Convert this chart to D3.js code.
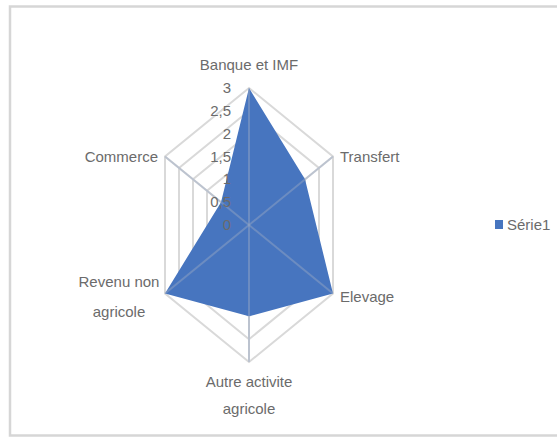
<!DOCTYPE html>
<html>
<head>
<meta charset="utf-8">
<script src="https://cdnjs.cloudflare.com/ajax/libs/d3/7.8.5/d3.min.js"></script>
<style>
  body { margin: 0; background: #fff; }
  text { font-family: "Liberation Sans", Arial, sans-serif; font-size: 15px; fill: #6b6b6b; }
</style>
</head>
<body>
<script>
// Categories / values of the radar
var categories = ["Banque et IMF", "Transfert", "Elevage", "Autre activite agricole", "Revenu non agricole", "Commerce"];
var serie1 = [3, 2, 3, 2, 3, 1];
var tickValues = [0, 0.5, 1, 1.5, 2, 2.5, 3];
var tickLabels = ["0", "0,5", "1", "1,5", "2", "2,5", "3"];
var seriesName = "Série1";

var W = 557, H = 438;
var cx = 249, cy = 225,
    sx = 0.708; // plot is squeezed horizontally

var svg = d3.select("body").append("svg")
    .attr("width", W)
    .attr("height", H);

// chart frame
svg.append("rect")
    .attr("x", 10).attr("y", 6.5)
    .attr("width", 560).attr("height", 429)
    .attr("fill", "#fff")
    .attr("stroke", "#d6d6d6")
    .attr("stroke-width", 2.5);

var r = d3.scaleLinear().domain([0, 3]).range([0, 137]);
var angle = d3.scaleLinear().domain([0, categories.length]).range([0, 2 * Math.PI]);

function px(v, i) { return cx + sx * r(v) * Math.sin(angle(i)); }
function py(v, i) { return cy - r(v) * Math.cos(angle(i)); }

var line = d3.line()
    .x(function(d) { return px(d.v, d.i); })
    .y(function(d) { return py(d.v, d.i); })
    .curve(d3.curveLinearClosed);

// grid rings
svg.append("g").selectAll("path")
    .data(tickValues.slice(1))
    .enter().append("path")
    .attr("d", function(t) { return line(categories.map(function(c, i) { return {v: t, i: i}; })); })
    .attr("fill", "none")
    .attr("stroke", "#d9d9d9")
    .attr("stroke-width", 2);

// spokes (under fill)
var spokes = function(g, color, op) {
    g.selectAll("line")
        .data(categories)
        .enter().append("line")
        .attr("x1", cx).attr("y1", cy)
        .attr("x2", function(d, i) { return px(3, i); })
        .attr("y2", function(d, i) { return py(3, i); })
        .attr("stroke", color)
        .attr("stroke-opacity", op)
        .attr("stroke-width", 2);
};
svg.append("g").call(spokes, "#d9d9d9", 1);

// the filled series
svg.append("path")
    .attr("d", line(serie1.map(function(v, i) { return {v: v, i: i}; })))
    .attr("fill", "#4775bf");

// spokes seen through the fill
svg.append("g").call(spokes, "#9aa9c4", 0.45);

// value axis labels
svg.append("g").selectAll("text")
    .data(tickValues)
    .enter().append("text")
    .attr("x", cx - 18)
    .attr("y", function(t) { return py(t, 0) + 5; })
    .attr("text-anchor", "end")
    .text(function(t, i) { return tickLabels[i]; });

// category labels
var labelPos = [
    {dx: 0, dy: -18, anchor: "middle", lines: ["Banque et IMF"]},
    {dx: 7, dy: 5.5, anchor: "start", lines: ["Transfert"]},
    {dx: 7, dy: 8.5, anchor: "start", lines: ["Elevage"]},
    {dx: 0, dy: 25, anchor: "middle", lines: ["Autre activite", "agricole"], lh: 27},
    {dx: -46, dy: -7, anchor: "middle", lines: ["Revenu non", "agricole"], lh: 30},
    {dx: -7, dy: 5.5, anchor: "end", lines: ["Commerce"]}
];

categories.forEach(function(c, i) {
    var p = labelPos[i];
    var t = svg.append("text")
        .attr("text-anchor", p.anchor)
        .attr("x", px(3, i) + p.dx)
        .attr("y", py(3, i) + p.dy);
    p.lines.forEach(function(l, k) {
        t.append("tspan")
            .attr("x", px(3, i) + p.dx)
            .attr("dy", k === 0 ? 0 : p.lh)
            .text(l);
    });
});

// legend
var legend = svg.append("g").attr("transform", "translate(495,220)");
legend.append("rect")
    .attr("width", 8).attr("height", 9)
    .attr("fill", "#4775bf");
legend.append("text")
    .attr("x", 12).attr("y", 10)
    .text(seriesName);
</script>
</body>
</html>
